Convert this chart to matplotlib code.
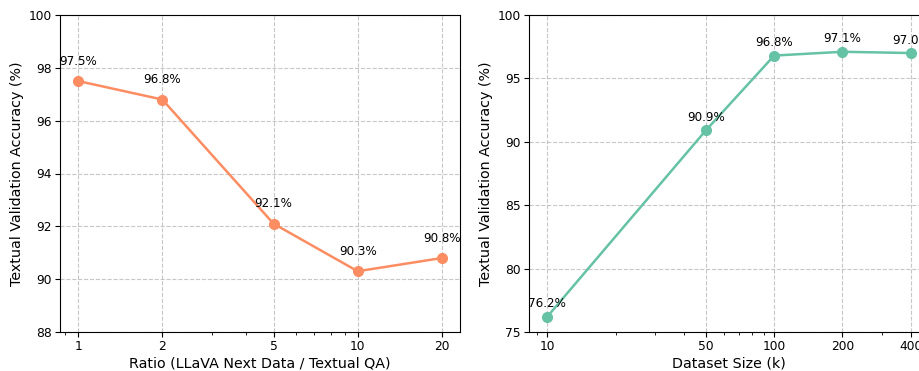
import matplotlib
matplotlib.use('Agg')
import matplotlib.pyplot as plt
from matplotlib.ticker import ScalarFormatter, NullFormatter

ratio = [1, 2, 5, 10, 20]
ratio_acc = [97.5, 96.8, 92.1, 90.3, 90.8]
size_k = [10, 50, 100, 200, 400]
size_acc = [76.2, 90.9, 96.8, 97.1, 97.0]

fig = plt.figure(figsize=(9.2, 3.71), dpi=100)
ax1 = fig.add_axes([60 / 920, 39 / 371, 400 / 920, 317 / 371])
ax2 = fig.add_axes([529 / 920, 39 / 371, 400 / 920, 317 / 371])

panels = [
    (ax1, ratio, ratio_acc, '#fc8d62', 'Ratio (LLaVA Next Data / Textual QA)', (88, 100)),
    (ax2, size_k, size_acc, '#66c2a5', 'Dataset Size (k)', (75, 100)),
]

for ax, x, y, c, xlabel, ylim in panels:
    ax.plot(x, y, '-o', color=c, lw=1.8, ms=7)
    ax.set_xscale('log')
    ax.set_xticks(x)
    ax.xaxis.set_major_formatter(ScalarFormatter())
    ax.xaxis.set_minor_formatter(NullFormatter())
    ax.set_ylim(*ylim)
    ax.set_xlabel(xlabel, fontsize=10.3, labelpad=2)
    ax.set_ylabel('Textual Validation Accuracy (%)', fontsize=10.3, labelpad=3)
    ax.tick_params(labelsize=8.8, pad=2.5)
    ax.grid(True, which='major', ls='--', color='#b0b0b0', alpha=0.7)
    for xi, yi in zip(x, y):
        ax.text(xi, yi + 0.5, '{}%'.format(yi), ha='center', va='bottom', fontsize=8.6)

fig.savefig('out.png', dpi=100)
